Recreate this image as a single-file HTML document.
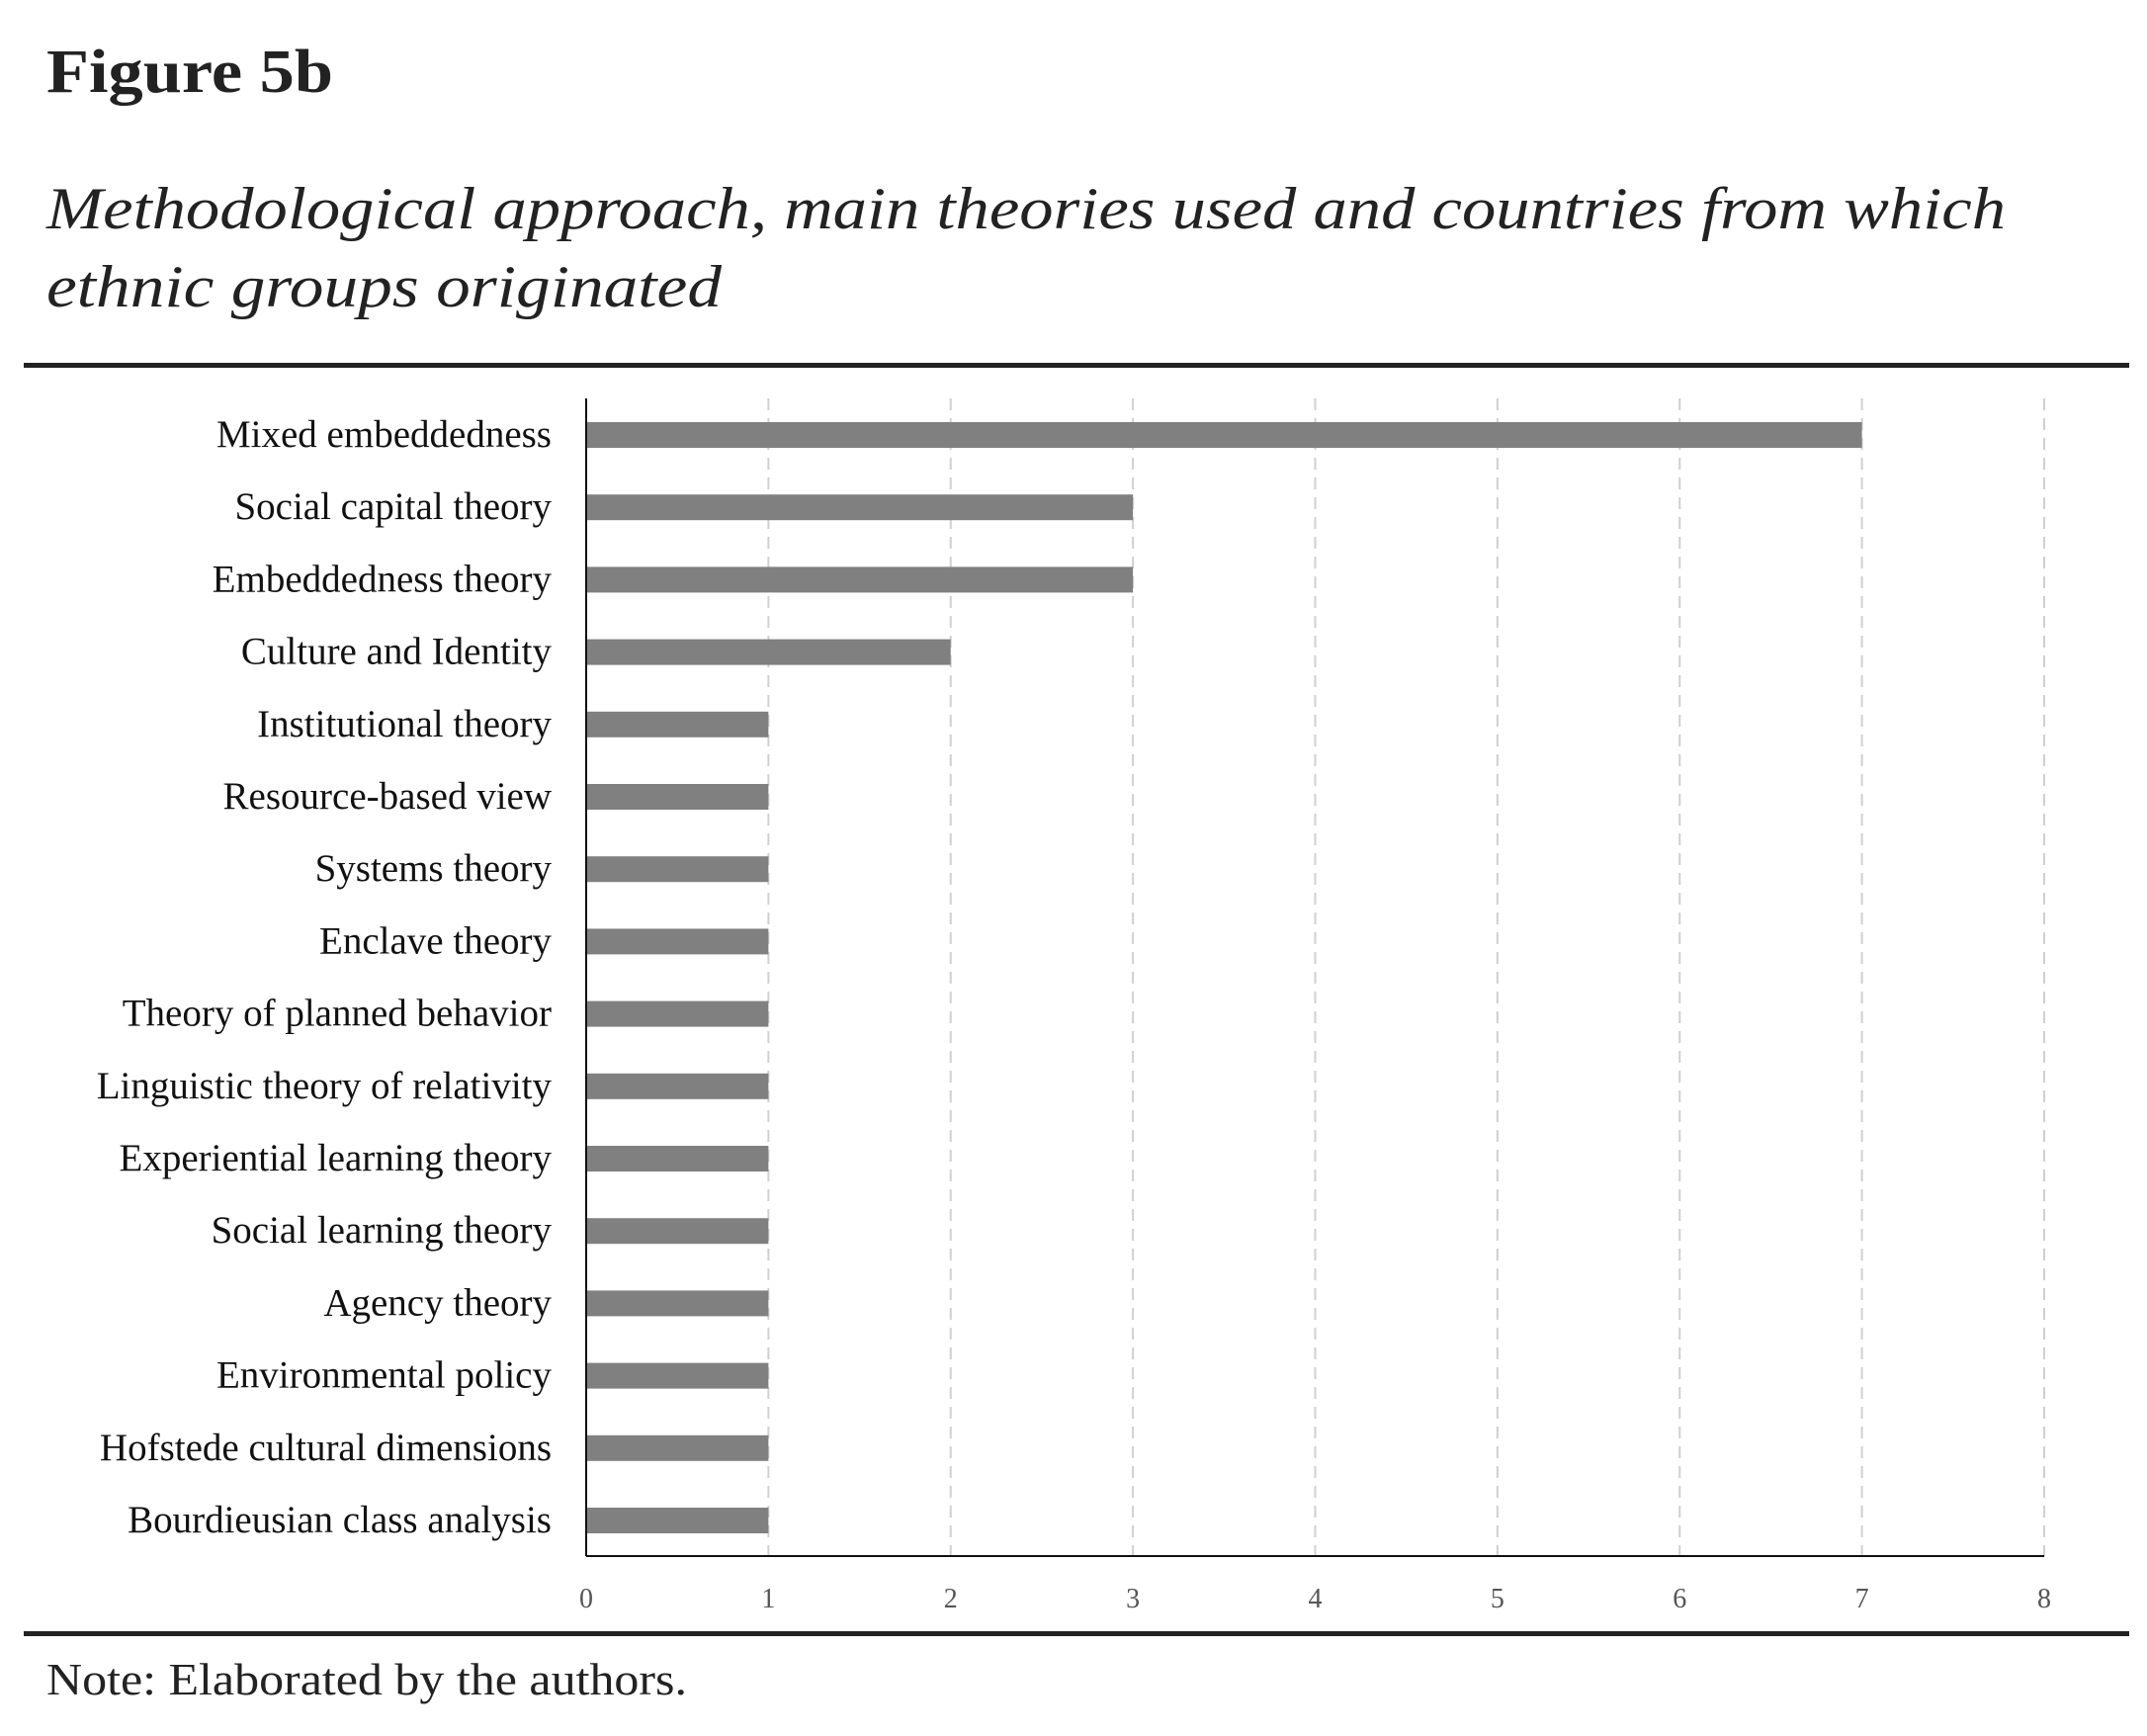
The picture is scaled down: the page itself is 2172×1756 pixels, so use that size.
<!DOCTYPE html>
<html><head><meta charset="utf-8"><style>
html,body{margin:0;padding:0;background:#fff;}
svg{display:block;}
</style></head><body>
<svg width="2172" height="1756" viewBox="0 0 2172 1756" xmlns="http://www.w3.org/2000/svg">
<text x="47" y="93" font-family="Liberation Serif, serif" font-weight="bold" font-size="62" fill="#222" textLength="290" lengthAdjust="spacingAndGlyphs">Figure 5b</text>
<text x="47" y="231" font-family="Liberation Serif, serif" font-style="italic" font-size="60" fill="#222" textLength="1982" lengthAdjust="spacingAndGlyphs">Methodological approach, main theories used and countries from which</text>
<text x="47" y="310" font-family="Liberation Serif, serif" font-style="italic" font-size="60" fill="#222" textLength="683" lengthAdjust="spacingAndGlyphs">ethnic groups originated</text>
<rect x="24" y="367" width="2130" height="5" fill="#222"/>
<g id="chart"></g>
<rect x="24" y="1650" width="2130" height="5" fill="#222"/>
<text x="47" y="1714" font-family="Liberation Serif, serif" font-size="46" fill="#222" textLength="648" lengthAdjust="spacingAndGlyphs">Note: Elaborated by the authors.</text>
</svg>
<script>
const categories=["Mixed embeddedness","Social capital theory","Embeddedness  theory","Culture and Identity","Institutional theory","Resource-based view","Systems theory","Enclave theory","Theory of planned behavior","Linguistic theory of relativity","Experiential learning theory","Social learning theory","Agency theory","Environmental policy","Hofstede cultural dimensions","Bourdieusian class analysis"];
const values=[7,3,3,2,1,1,1,1,1,1,1,1,1,1,1,1];
const ticks=[0,1,2,3,4,5,6,7,8];
const NS="http://www.w3.org/2000/svg";
const g=document.getElementById('chart');
const X0=593,X1=2068,plotTop=403,plotBot=1574,firstY=440,lastY=1538;
const xs=v=>X0+(X1-X0)*v/8;
const ys=i=>firstY+(lastY-firstY)*i/(categories.length-1);
function mk(t,a){const e=document.createElementNS(NS,t);for(const k in a)e.setAttribute(k,a[k]);g.appendChild(e);return e;}
ticks.forEach(t=>{
 if(t>0){const l=mk('line',{x1:xs(t),x2:xs(t),y1:plotTop,y2:plotBot,stroke:'#d0d0d0','stroke-width':2,'stroke-dasharray':'12,8'});
 
 }
 const tx=mk('text',{x:xs(t),y:1626,'text-anchor':'middle','font-family':'Liberation Serif, serif','font-size':28,fill:'#555'});
 tx.textContent=t;
 
 
});
categories.forEach((c,i)=>{
 const y=ys(i);
 const b=mk('rect',{x:X0,y:y-13,width:xs(values[i])-X0,height:26,fill:'#808080'});
 
 
 const t=mk('text',{x:558,y:y+12,'text-anchor':'end','font-family':'Liberation Serif, serif','font-size':39,fill:'#111'});
 t.textContent=c;
 
 
});
const ya=mk('line',{x1:X0,x2:X0,y1:plotTop,y2:plotBot,stroke:'#111','stroke-width':2});


const xa=mk('line',{x1:X0,x2:X1,y1:plotBot,y2:plotBot,stroke:'#111','stroke-width':2});


</script>
</body></html>
